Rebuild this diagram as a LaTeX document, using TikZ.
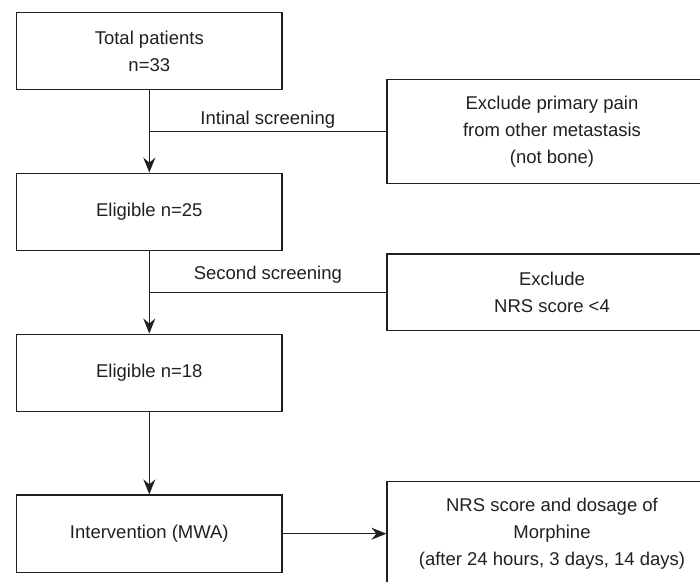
\documentclass[tikz,border=0pt]{standalone}
\usepackage{fontspec}
\setmainfont{Liberation Sans}
\usetikzlibrary{arrows.meta}
\definecolor{ink}{HTML}{231F20}
\begin{document}
\begin{tikzpicture}[node distance={160.9pt}, color=ink, line width=1.2pt, >={Stealth[length=15pt, width=12pt, inset=5pt]},
		main/.style = {draw, rectangle, minimum width=265.5pt, minimum height=77.4pt, align=center, font=\fontsize{18.5}{27}\selectfont},
		excl/.style = {main, minimum width=330pt, minimum height=104pt},
		lbl/.style = {font=\fontsize{18.5}{27}\selectfont, inner sep=0pt}]
			\path[use as bounding box, clip] (0,0) rectangle (700pt,-581pt);
			\node[main] (total) at (149.3pt,-51pt) {Total patients\\n=33};
			\node[main, below of = total] (elig1) {Eligible n=25};
			\node[main, below of = elig1] (elig2) {Eligible n=18};
			\node[main, below of = elig2] (mwa) {Intervention (MWA)};
			\coordinate[below of = total, node distance=80.45pt] (b1);
			\coordinate[below of = elig1, node distance=80.45pt] (b2);
			\node[excl, right of = b1, node distance=402.7pt] (ex1) {Exclude primary pain\\from other metastasis\\(not bone)};
			\node[excl, minimum height=76.6pt, right of = b2, node distance=402.7pt] (ex2) {Exclude\\NRS score <4};
			\node[excl, minimum height=104.6pt, right of = mwa, node distance=402.7pt] (result) {NRS score and dosage of\\Morphine\\(after 24 hours, 3 days, 14 days)};
			\draw[->] (total) edge (elig1);
			\draw[->] (elig1) edge (elig2);
			\draw[->] (elig2) edge (mwa);
			\draw[->] (mwa) edge (result);
			\draw (ex1) edge node[lbl, above=2.8pt] {Intinal screening} (b1);
			\draw (ex2) edge node[lbl, above=8.5pt] {Second screening} (b2);
		\end{tikzpicture}
\end{document}
